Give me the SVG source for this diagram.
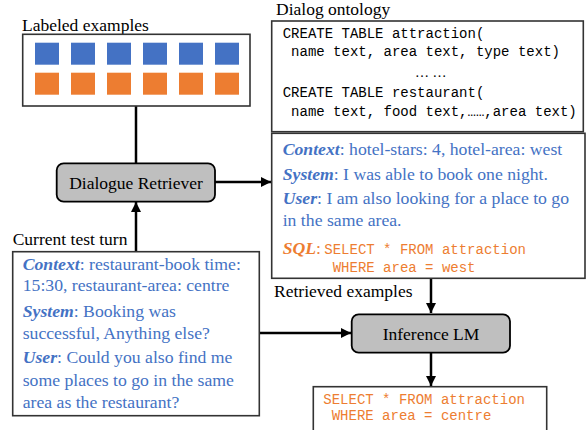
<svg xmlns="http://www.w3.org/2000/svg" width="587" height="430" viewBox="0 0 587 430">
<defs>
<style>
.lbl{font-family:"Liberation Serif","Times New Roman",serif;font-size:17.5px;fill:#000}
.box{fill:#fff;stroke:#333;stroke-width:1.6}
.proc{fill:#bfbfbf;stroke:#000;stroke-width:1.8}
.ptxt{font-family:"Liberation Serif","Times New Roman",serif;font-size:17.5px;fill:#000;text-anchor:middle}
.mono{font-family:"Liberation Mono",monospace;font-size:14px;fill:#000}
.omono{font-family:"Liberation Mono",monospace;font-size:14px;fill:#ED7D31}
.blue{font-family:"Liberation Serif","Times New Roman",serif;font-size:17.7px;fill:#4472C4}
.key{font-weight:bold;font-style:italic}
.sql{font-family:"Liberation Serif","Times New Roman",serif;font-size:17.7px;fill:#ED7D31}
.ell{font-family:"Liberation Serif","Times New Roman",serif;font-size:14px;fill:#000}
.b{fill:#4472C4}
.o{fill:#ED7D31}
.conn{stroke:#000;stroke-width:2.5;fill:none}
</style>
<marker id="ah" viewBox="0 0 10 10" refX="10" refY="5" markerWidth="4" markerHeight="4" orient="auto" markerUnits="strokeWidth">
<path d="M0,0 L10,5 L0,10 z" fill="#000"/>
</marker>
</defs>

<g id="connectors">
<line class="conn" x1="136" y1="106" x2="136" y2="164"/>
<line class="conn" x1="215" y1="182" x2="271" y2="182" marker-end="url(#ah)"/>
<line class="conn" x1="136" y1="252" x2="136" y2="202" marker-end="url(#ah)"/>
<line class="conn" x1="431" y1="279" x2="431" y2="313" marker-end="url(#ah)"/>
<line class="conn" x1="260" y1="333" x2="351" y2="333" marker-end="url(#ah)"/>
<line class="conn" x1="431" y1="353" x2="431" y2="386" marker-end="url(#ah)"/>
</g>

<g id="labeled-examples">
<text class="lbl" font-family="Liberation Serif, serif" x="22" y="31">Labeled examples</text>
<rect class="box" x="22.7" y="34.3" width="227.3" height="71.7"/>
<rect class="b" x="35" y="42.7" width="24" height="22"/>
<rect class="b" x="71" y="42.7" width="24" height="22"/>
<rect class="b" x="107" y="42.7" width="24" height="22"/>
<rect class="b" x="143" y="42.7" width="24" height="22"/>
<rect class="b" x="179" y="42.7" width="24" height="22"/>
<rect class="b" x="215" y="42.7" width="24" height="22"/>
<rect class="o" x="35" y="72.7" width="24" height="22"/>
<rect class="o" x="71" y="72.7" width="24" height="22"/>
<rect class="o" x="107" y="72.7" width="24" height="22"/>
<rect class="o" x="143" y="72.7" width="24" height="22"/>
<rect class="o" x="179" y="72.7" width="24" height="22"/>
<rect class="o" x="215" y="72.7" width="24" height="22"/>
</g>

<g id="dialog-ontology">
<text class="lbl" font-family="Liberation Serif, serif" x="276" y="15">Dialog ontology</text>
<rect class="box" x="271.7" y="21" width="311.6" height="110.7"/>
<text class="mono" x="282.7" y="37.5">CREATE TABLE attraction(</text>
<text class="mono" x="282.7" y="55.5" xml:space="preserve"> name text, area text, type text)</text>
<text class="ell" x="415" y="77">… …</text>
<text class="mono" x="282.7" y="97">CREATE TABLE restaurant(</text>
<text class="mono" x="282.7" y="115.5" xml:space="preserve"> name text, food text,……,area text)</text>
</g>

<g id="dialogue-retriever">
<rect class="proc" x="56.7" y="163.3" width="158.3" height="38.4" rx="7"/>
<text class="ptxt" font-family="Liberation Serif, serif" x="136" y="189">Dialogue Retriever</text>
</g>

<g id="retrieved-examples">
<rect class="box" x="271.7" y="133.3" width="313.3" height="145"/>
<text class="blue" x="282.7" y="155"><tspan class="key">Context</tspan>: hotel-stars: 4, hotel-area: west</text>
<text class="blue" x="282.7" y="179.5"><tspan class="key">System</tspan>: I was able to book one night.</text>
<text class="blue" x="282.7" y="204"><tspan class="key">User</tspan>: I am also looking for a place to go</text>
<text class="blue" x="282.7" y="226">in the same area.</text>
<text class="sql" x="282.7" y="253.5"><tspan class="key">SQL</tspan>:</text>
<text class="omono" x="324.3" y="253.5">SELECT * FROM attraction</text>
<text class="omono" x="332.7" y="272">WHERE area = west</text>
<text class="lbl" font-family="Liberation Serif, serif" x="274" y="297">Retrieved examples</text>
</g>

<g id="current-test-turn">
<text class="lbl" font-family="Liberation Serif, serif" x="12.7" y="245">Current test turn</text>
<rect class="box" x="12.7" y="251.7" width="246.6" height="164"/>
<text class="blue" x="22.7" y="270"><tspan class="key">Context</tspan>: restaurant-book time:</text>
<text class="blue" x="22.7" y="291">15:30, restaurant-area: centre</text>
<text class="blue" x="22.7" y="317"><tspan class="key">System</tspan>: Booking was</text>
<text class="blue" x="22.7" y="339">successful, Anything else?</text>
<text class="blue" x="22.7" y="363"><tspan class="key">User</tspan>: Could you also find me</text>
<text class="blue" x="22.7" y="386">some places to go in the same</text>
<text class="blue" x="22.7" y="408">area as the restaurant?</text>
</g>

<g id="inference-lm">
<rect class="proc" x="351.7" y="314.3" width="158.3" height="38.4" rx="7"/>
<text class="ptxt" font-family="Liberation Serif, serif" x="431" y="340">Inference LM</text>
</g>

<g id="output">
<rect class="box" x="313.3" y="386.7" width="233.4" height="50"/>
<text class="omono" x="323.3" y="404">SELECT * FROM attraction</text>
<text class="omono" x="331.7" y="420">WHERE area = centre</text>
</g>
</svg>
